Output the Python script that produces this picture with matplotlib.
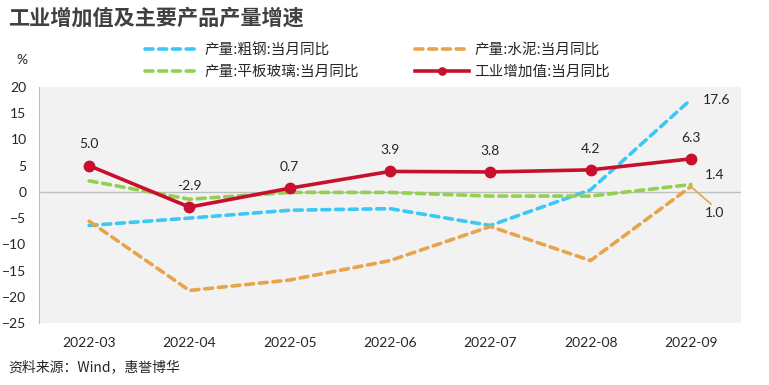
import matplotlib
matplotlib.use("Agg")
import matplotlib.pyplot as plt

# data
months = ["2022-03", "2022-04", "2022-05", "2022-06", "2022-07", "2022-08", "2022-09"]
steel = [-6.4, -5.0, -3.5, -3.2, -6.4, 0.4, 17.6]
cement = [-5.6, -18.8, -16.8, -13.1, -6.6, -13.1, 1.0]
glass = [2.1, -1.4, -0.1, -0.1, -0.8, -0.8, 1.4]
industry = [5.0, -2.9, 0.7, 3.9, 3.8, 4.2, 6.3]
yticks = [-25, -20, -15, -10, -5, 0, 5, 10, 15, 20]

plt.rcParams["font.family"] = ["Lato", "Noto Sans CJK SC", "DejaVu Sans"]
cjk = ["Noto Sans CJK SC", "DejaVu Sans"]
txt = "#262626"

fig = plt.figure(figsize=(7.69, 3.85), dpi=100)
ax = fig.add_axes([39 / 769, 62 / 385, 702 / 769, 236 / 385])
ax.set_facecolor("#F2F2F2")

x = list(range(len(months)))
ax.axhline(0, color="#BFBFBF", lw=1, zorder=1)

dash = (0, (2.2, 1.6))
l_steel, = ax.plot(x, steel, color="#3CC8F5", lw=2.6, ls=dash, dash_capstyle="round", zorder=2)
l_cement, = ax.plot(x, cement, color="#E8A44C", lw=2.6, ls=dash, dash_capstyle="round", zorder=2)
l_glass, = ax.plot(x, glass, color="#92D050", lw=2.6, ls=dash, dash_capstyle="round", zorder=2)
l_ind, = ax.plot(x, industry, color="#C8102E", lw=2.6, marker="o", ms=7.5, zorder=3)

# labels for industrial value added
for xi, v in zip(x, industry):
    ax.annotate(f"{v:.1f}", (xi, v), xytext=(0, 11), textcoords="offset points",
                ha="center", va="bottom", fontsize=10, color=txt)

# end labels for the other series
last = len(months) - 1
ax.annotate(f"{steel[-1]:.1f}", (last, steel[-1]), xytext=(9, 0), textcoords="offset points",
            ha="left", va="center", fontsize=10, color=txt)
ax.annotate(f"{glass[-1]:.1f}", (last, glass[-1]), xytext=(10, 7), textcoords="offset points",
            ha="left", va="center", fontsize=10, color=txt)
ax.annotate(f"{cement[-1]:.1f}", (last, cement[-1]), xytext=(10, -19), textcoords="offset points",
            ha="left", va="center", fontsize=10, color=txt,
            arrowprops=dict(arrowstyle="-", color="#E8A44C", lw=1.2, shrinkA=0, shrinkB=0,
                            relpos=(0.5, 1.0)))

ax.set_xlim(-0.5, len(months) - 0.5)
ax.set_ylim(-25, 20)
ax.set_yticks(yticks)
ax.set_xticks(x)
ax.set_xticklabels(months)
ax.tick_params(axis="both", length=0, labelsize=10, colors=txt, pad=10)
ax.tick_params(axis="y", pad=9)
for s in ["top", "right", "bottom"]:
    ax.spines[s].set_visible(False)
ax.spines["left"].set_color("#BFBFBF")

fig.legend([l_steel, l_glass, l_cement, l_ind],
           ["产量:粗钢:当月同比", "产量:平板玻璃:当月同比", "产量:水泥:当月同比", "工业增加值:当月同比"],
           ncol=2, loc="upper left", bbox_to_anchor=(132 / 769, 1 - 30 / 385),
           frameon=False, prop={"family": cjk, "size": 10.5}, handlelength=3.7,
           columnspacing=3.8, labelspacing=0.52, handletextpad=0.4, labelcolor=txt,
           markerscale=0.7)

fig.text(8 / 769, 1 - 18 / 385, "工业增加值及主要产品产量增速", family=cjk, fontsize=15.2,
         fontweight="bold", color="#404040", va="center", ha="left")
fig.text(22 / 769, 1 - 60 / 385, "%", fontsize=10, color=txt, ha="center", va="center")
fig.text(8 / 769, 1 - 367 / 385, "资料来源：Wind，惠誉博华", family=cjk, fontsize=10,
         color=txt, ha="left", va="center")

fig.savefig("out.png", dpi=100)
